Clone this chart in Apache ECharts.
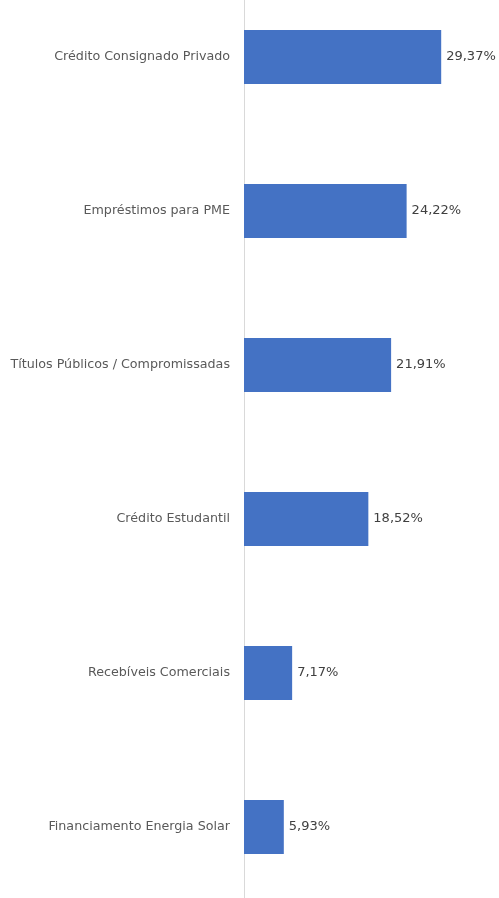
<!DOCTYPE html>
<html>
<head>
<meta charset="utf-8">
<script src="https://cdn.jsdelivr.net/npm/echarts@6/dist/echarts.min.js"></script>
<style>html,body{margin:0;padding:0;background:#fff;overflow:hidden;width:499px;height:898px;position:relative}#c{position:absolute;left:0;top:-20px;width:499px;height:924px}</style>
</head>
<body>
<div id="c"></div>
<script>
const categories = [
  "Crédito Consignado Privado",
  "Empréstimos para PME",
  "Títulos Públicos / Compromissadas",
  "Crédito Estudantil",
  "Recebíveis Comerciais",
  "Financiamento Energia Solar"
];
const values = [29.37, 24.22, 21.91, 18.52, 7.17, 5.93];

const chart = echarts.init(document.getElementById('c'), null, {renderer: 'canvas'});
chart.setOption({
  animation: false,
  backgroundColor: '#ffffff',
  grid: { left: 244, right: 20, top: 0, bottom: 0, containLabel: false },
  xAxis: {
    type: 'value', min: 0, max: 35,
    show: false
  },
  yAxis: {
    type: 'category', data: categories, inverse: true,
    axisLine: { show: true, lineStyle: { color: '#d9d9d9', width: 1 } },
    axisTick: { show: false },
    axisLabel: { color: '#595959', fontFamily: 'DejaVu Sans', fontSize: 12.7, margin: 14 }
  },
  series: [{
    type: 'bar', data: values, barWidth: 54,
    itemStyle: { color: '#4472C4' },
    label: {
      show: true, position: 'right', distance: 5,
      color: '#404040', fontFamily: 'DejaVu Sans', fontSize: 13,
      formatter: p => p.value.toFixed(2).replace('.', ',') + '%'
    }
  }]
});
</script>
</body>
</html>
